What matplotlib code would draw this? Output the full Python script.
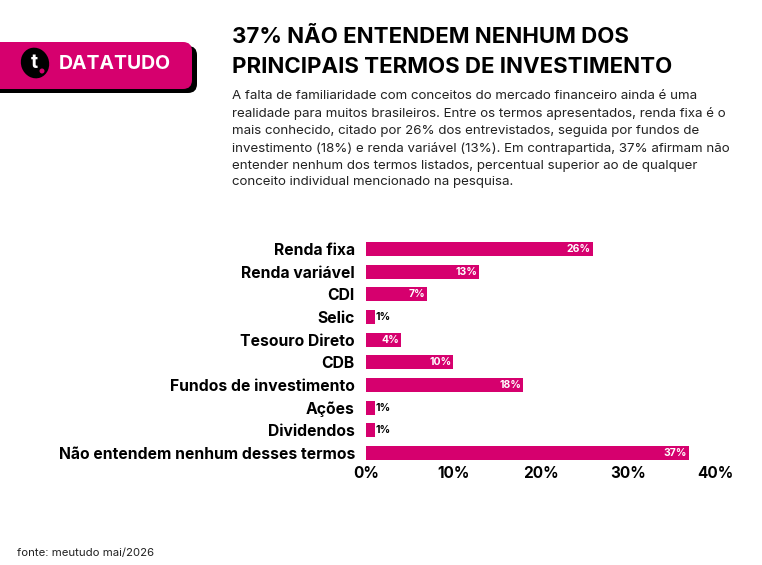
import matplotlib.pyplot as plt
from matplotlib.patches import FancyBboxPatch, Ellipse
from matplotlib.ticker import FuncFormatter

plt.rcParams['font.family'] = ['Inter', 'DejaVu Sans']

PINK = "#d6006e"

categorias = ["Renda fixa", "Renda variável", "CDI", "Selic", "Tesouro Direto",
              "CDB", "Fundos de investimento", "Ações", "Dividendos",
              "Não entendem nenhum desses termos"]
valores = [26, 13, 7, 1, 4, 10, 18, 1, 1, 37]
ticks = [0, 10, 20, 30, 40]

titulo = "37% NÃO ENTENDEM NENHUM DOS\nPRINCIPAIS TERMOS DE INVESTIMENTO"
texto = ("A falta de familiaridade com conceitos do mercado financeiro ainda é uma\n"
         "realidade para muitos brasileiros. Entre os termos apresentados, renda fixa é o\n"
         "mais conhecido, citado por 26% dos entrevistados, seguida por fundos de\n"
         "investimento (18%) e renda variável (13%). Em contrapartida, 37% afirmam não\n"
         "entender nenhum dos termos listados, percentual superior ao de qualquer\n"
         "conceito individual mencionado na pesquisa.")
fonte = "fonte: meutudo mai/2026"

fig = plt.figure(figsize=(7.62, 5.65), dpi=100)
ax = fig.add_axes([0.4803, 0.1782, 0.458, 0.4011])

y = list(range(len(categorias)))
ax.barh(y, valores, height=0.62, color=PINK)
ax.set_ylim(len(categorias) - 0.5, -0.5)
ax.set_xlim(0, 40)
ax.set_yticks(y)
ax.set_yticklabels(categorias, fontsize=11.3, fontweight='bold')
ax.set_xticks(ticks)
ax.xaxis.set_major_formatter(FuncFormatter(lambda v, p: f"{v:.0f}%"))
for lab in ax.get_xticklabels():
    lab.set_fontweight('bold')
    lab.set_fontsize(11)
ax.tick_params(length=0)
ax.tick_params(axis='x', pad=1)
ax.tick_params(axis='y', pad=8)
for s in ax.spines.values():
    s.set_visible(False)

for yi, v in zip(y, valores):
    if v >= 3:
        ax.text(v - 0.2, yi, f"{v}%", ha='right', va='center', color='white',
                fontsize=7.5, fontweight='bold')
    else:
        ax.text(v + 0.05, yi, f"{v}%", ha='left', va='center', color='black',
                fontsize=7.5, fontweight='bold')

# titulo e texto
fig.text(232 / 762, 1 - 37 / 565, "37% NÃO ENTENDEM NENHUM DOS", ha='left', va='center',
         fontsize=16, fontweight='bold')
fig.text(232 / 762, 1 - 67 / 565, "PRINCIPAIS TERMOS DE INVESTIMENTO", ha='left', va='center',
         fontsize=16, fontweight='bold')
fig.text(232 / 762, 1 - 90 / 565, texto, ha='left', va='top', fontsize=9.6,
         color='#222222', linespacing=1.52)
fig.text(17 / 762, 1 - 553 / 565, fonte, ha='left', va='center', fontsize=8.2,
         color='#222222')

# logo
lx = fig.add_axes([0, 0, 1, 1], zorder=-1)
lx.set_xlim(0, 762)
lx.set_ylim(565, 0)
lx.axis('off')
lx.add_patch(FancyBboxPatch((-20, 46), 217, 47, boxstyle="round,pad=0,rounding_size=9",
                            fc='black', ec='none'))
lx.add_patch(FancyBboxPatch((-20, 42), 212, 47, boxstyle="round,pad=0,rounding_size=9",
                            fc=PINK, ec='none'))
lx.add_patch(Ellipse((35, 63), 28, 31, angle=-20, fc='black', ec='none'))
lx.text(34, 63, "t", color='white', fontsize=14, fontweight='bold', ha='center', va='center')
lx.add_patch(Ellipse((42, 71), 5, 5, fc=PINK, ec='none'))
lx.text(59, 64, "DATATUDO", color='white', fontsize=14, fontweight='bold',
        ha='left', va='center')

fig.savefig("out.png", dpi=100)
